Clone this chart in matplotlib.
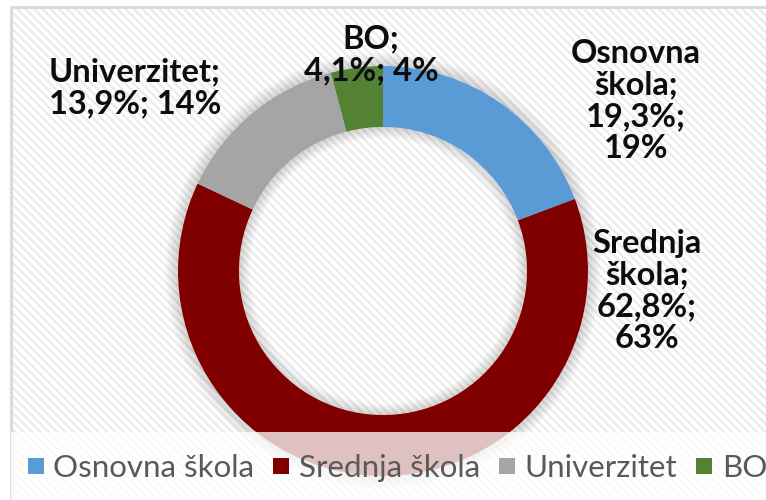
import matplotlib.pyplot as plt
from matplotlib.patches import Rectangle, Wedge
from matplotlib.lines import Line2D

# data
categories = ["Osnovna škola", "Srednja škola", "Univerzitet", "BO"]
shares = [19.3, 62.8, 13.9, 4.1]
colors = ["#5B9BD5", "#800000", "#A5A5A5", "#548235"]
label_names = ["Osnovna\nškola", "Srednja\nškola", "Univerzitet", "BO"]
label_seps = ["\n", "\n", " ", " "]

W, H = 766, 500
plt.rcParams["font.family"] = ["Lato", "DejaVu Sans"]
plt.rcParams["hatch.linewidth"] = 1.6
plt.rcParams["hatch.color"] = "#ebebeb"

fig = plt.figure(figsize=(W / 100, H / 100), dpi=100)
ax = fig.add_axes([0, 0, 1, 1])

# striped chart area with grey border on top and left
ax.add_patch(Rectangle((11, 0), W, H - 7, facecolor="white", hatch="\\\\\\\\",
                       edgecolor="#ebebeb", linewidth=0, zorder=0))
ax.plot([11, 11, W], [0, H - 7, H - 7], color="#d9d9d9", lw=2, zorder=1)

cx, cy = 383, H - 271
r_out, r_in = 205, 144

# soft shadow around the ring
for k in range(1, 9):
    ax.add_patch(Wedge((cx, cy), r_out + k * 1.6, 0, 360, width=k * 1.6,
                       facecolor="black", alpha=0.02, lw=0, zorder=2))
    ax.add_patch(Wedge((cx, cy), r_in, 0, 360, width=k * 1.4,
                       facecolor="black", alpha=0.018, lw=0, zorder=2))

wedges, _ = ax.pie(shares, colors=colors, startangle=90, counterclock=False,
                   center=(cx, cy), radius=r_out,
                   wedgeprops=dict(width=r_out - r_in, linewidth=0))
for w in wedges:
    w.set_zorder(3)

# data labels
label_pos = [(636, 101), (647, 291), (135, 88), (371, 55)]
for name, val, sep, (lx, ly) in zip(label_names, shares, label_seps, label_pos):
    txt = f"{name};\n{val:.1f}%;{sep}{round(val)}%".replace(".", ",")
    ax.text(lx, H - ly, txt, ha="center", va="center", fontsize=23.5,
            fontweight="bold", color="#0d0d0d", linespacing=1.1, zorder=6)

# legend band
ax.add_patch(Rectangle((11, 0), W, H - 432, facecolor="white", alpha=0.76,
                       lw=0, zorder=4))
handles = [Line2D([], [], marker="s", linestyle="none", markersize=12.2,
                  markerfacecolor=c, markeredgewidth=0) for c in colors]
leg = ax.legend(handles, categories, loc="center left",
                bbox_to_anchor=(27 / W, (H - 468) / H), ncol=4, frameon=False,
                fontsize=22.5, handlelength=0.55, handletextpad=0.28,
                columnspacing=0.6, borderpad=0, borderaxespad=0,
                labelcolor="#595959")
leg.set_zorder(7)

ax.set_xlim(0, W)
ax.set_ylim(0, H)
ax.axis("off")
fig.savefig("out.png", dpi=100)
